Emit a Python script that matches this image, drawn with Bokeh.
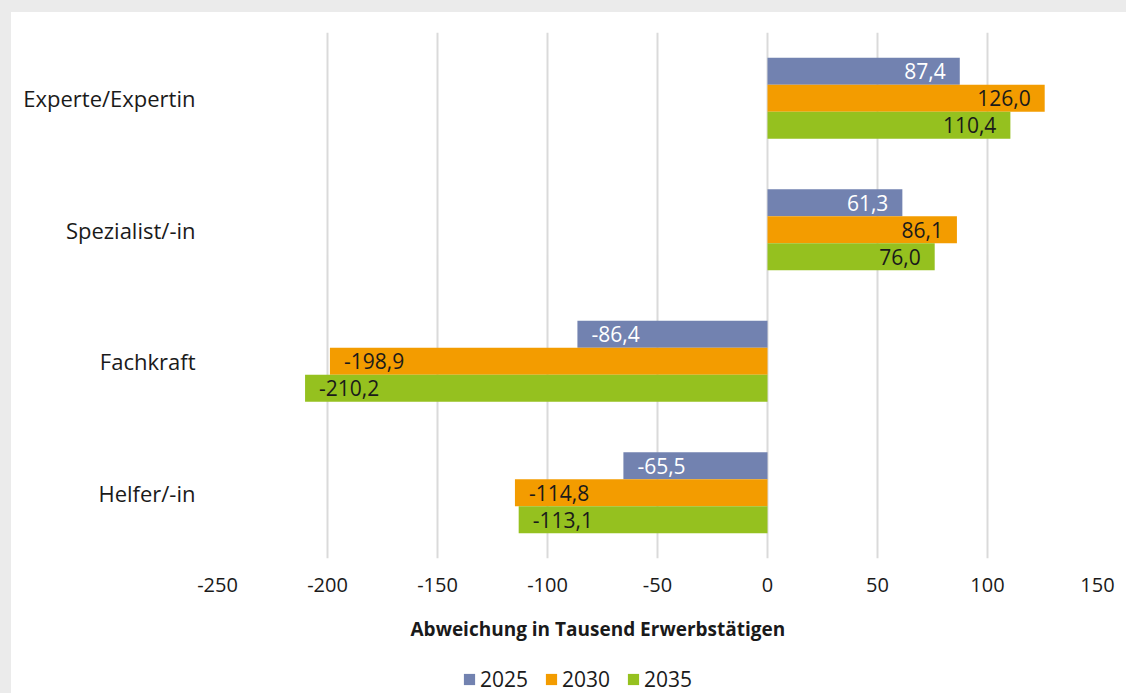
from bokeh.plotting import figure
from bokeh.layouts import column
from bokeh.models import ColumnDataSource, FactorRange, Legend, LegendItem, Title, Range1d
from bokeh.transform import dodge
from bokeh.core.properties import value
from bokeh.embed import file_html
from bokeh.resources import INLINE

# ---- data ----
categories = ["Experte/Expertin", "Spezialist/-in", "Fachkraft", "Helfer/-in"]
years = ["2025", "2030", "2035"]
v2025 = [87.4, 61.3, -86.4, -65.5]
v2030 = [126.0, 86.1, -198.9, -114.8]
v2035 = [110.4, 76.0, -210.2, -113.1]
x_ticks = [-250, -200, -150, -100, -50, 0, 50, 100, 150]
axis_title = "Abweichung in Tausend Erwerbstätigen"

# ---- style ----
colors = ["#7282b0", "#f39c00", "#95c11f"]
label_colors = ["#ffffff", "#1a1a1a", "#1a1a1a"]
bar_h = 0.205
offsets = [bar_h, 0.0, -bar_h]
FONT = "Open Sans"
TXT = "#1a1a1a"
WHITE = {"background-color": "white"}

p = figure(width=1115, height=652,
           y_range=FactorRange(*reversed(categories)),
           x_range=(-250, 150),
           output_backend="svg", toolbar_location=None,
           min_border_left=206, min_border_right=29,
           min_border_top=20, min_border_bottom=106)
p.styles = WHITE
p.outline_line_color = None
p.background_fill_color = "white"
p.border_fill_color = "white"

sources = []
for vals, col, lcol, off in zip([v2025, v2030, v2035], colors, label_colors, offsets):
    src = ColumnDataSource(dict(
        cat=categories,
        v=vals,
        lbl=[f"{v:.1f}".replace(".", ",") for v in vals],
        align=["right" if v >= 0 else "left" for v in vals],
        xoff=[-14 if v >= 0 else 14 for v in vals],
    ))
    sources.append(src)
    p.hbar(y=dodge("cat", off, range=p.y_range), left=0, right="v",
           height=bar_h, fill_color=col, line_color=None, source=src)
    p.text(x="v", y=dodge("cat", off, range=p.y_range), text="lbl",
           text_align="align", x_offset="xoff", text_baseline="middle",
           text_font=value(FONT), text_font_size="21px", text_color=lcol,
           source=src)

# axes
p.xaxis.ticker = x_ticks
p.xaxis.major_label_overrides = {t: str(t) for t in x_ticks}
p.xaxis.axis_line_color = None
p.xaxis.major_tick_line_color = None
p.xaxis.minor_tick_line_color = None
p.xaxis.major_label_text_font = FONT
p.xaxis.major_label_text_font_size = "20px"
p.xaxis.major_label_text_color = TXT
p.xaxis.major_label_standoff = 13

p.yaxis.axis_line_color = None
p.yaxis.major_tick_line_color = None
p.yaxis.major_label_text_font = FONT
p.yaxis.major_label_text_font_size = "22px"
p.yaxis.major_label_text_color = TXT
p.yaxis.major_label_standoff = 16

p.ygrid.visible = False
p.xgrid.grid_line_color = "#dadada"
p.xgrid.grid_line_width = 2

# axis title (below, shifted left like the original)
p.add_layout(Title(text=axis_title, align="left", offset=193, standoff=38,
                   text_font=FONT, text_font_size="19px", text_font_style="bold",
                   text_color=TXT), "below")

# ---- legend strip (separate small figure below) ----
lg = figure(width=1115, height=29, x_range=Range1d(-250, 150), y_range=Range1d(0, 1),
            output_backend="svg", toolbar_location=None,
            x_axis_location=None, y_axis_location=None,
            min_border=0, min_border_left=0, min_border_right=0,
            min_border_top=0, min_border_bottom=0)
lg.styles = WHITE
lg.outline_line_color = None
lg.grid.visible = False
lg.background_fill_color = "white"
lg.border_fill_color = "white"
items = []
for yr, col, src in zip(years, colors, sources):
    r = lg.hbar(y=0, left=0, right="v", height=bar_h, fill_color=col,
                line_color=None, source=src, visible=False)
    items.append(LegendItem(label=yr, renderers=[r]))
legend = Legend(items=items, orientation="horizontal", location=(245, 0),
                glyph_width=14, glyph_height=14, label_standoff=4, spacing=16,
                padding=0, margin=0, border_line_color=None,
                background_fill_alpha=0, click_policy="none",
                inactive_fill_alpha=0,
                label_text_font=FONT, label_text_font_size="21px",
                label_text_color=TXT, label_height=20)
lg.add_layout(legend, "center")

layout = column(p, lg, spacing=0, styles=WHITE)

html = file_html(layout, INLINE, title="chart")
html = html.replace("</head>",
                    "<style>html{overflow:hidden;}body{margin:0;padding:12px 0 0 11px;background:#ebebeb;}</style></head>", 1)
open("out.html", "w").write(html)
